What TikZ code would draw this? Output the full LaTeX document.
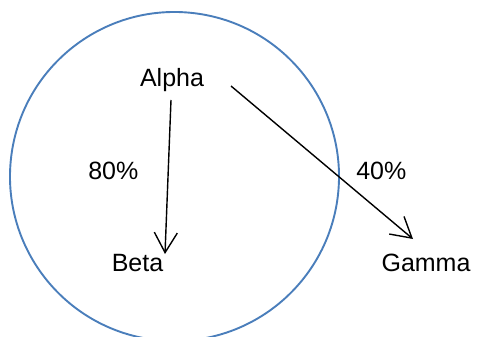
\documentclass[tikz,border=0pt]{standalone}
\usepackage{fontspec}
\setmainfont{Liberation Sans}
\usetikzlibrary{arrows.meta}
\definecolor{ringblue}{HTML}{4A7EBB}
\tikzset{
  lbl/.style={font=\fontsize{25}{29}\selectfont, inner sep=0pt, anchor=base},
  link/.style={line width=1.4pt, -{Straight Barb[length=20pt,width=23pt,line width=1.4pt]}},
  ring/.style={draw=ringblue, line width=1.9pt}
}
\begin{document}
\begin{tikzpicture}[x=1pt,y=-1pt]
  \useasboundingbox (0,0) rectangle (477,337);
  % open circle with a small gap near the top
  \draw[ring] (174.5,176.5) ++(96:164.5) arc[start angle=96, end angle=450, radius=164.5];
  % labels
  \node[lbl] (alpha) at (172,86.7) {Alpha};
  \node[lbl] (beta)  at (137.5,271.7) {Beta};
  \node[lbl] (gamma) at (426,271.7) {Gamma};
  \node[lbl] (p80)   at (113.3,179.3) {80\%};
  \node[lbl] (p40)   at (381.3,179.3) {40\%};
  % arrow end points
  \coordinate (aStart) at (171,100);
  \coordinate (bEnd)   at (165,254);
  \coordinate (cStart) at (231,86);
  \coordinate (gEnd)   at (413,239);
  \draw[link] (aStart) -- (bEnd);
  \draw[link] (cStart) -- (gEnd);
\end{tikzpicture}
\end{document}
